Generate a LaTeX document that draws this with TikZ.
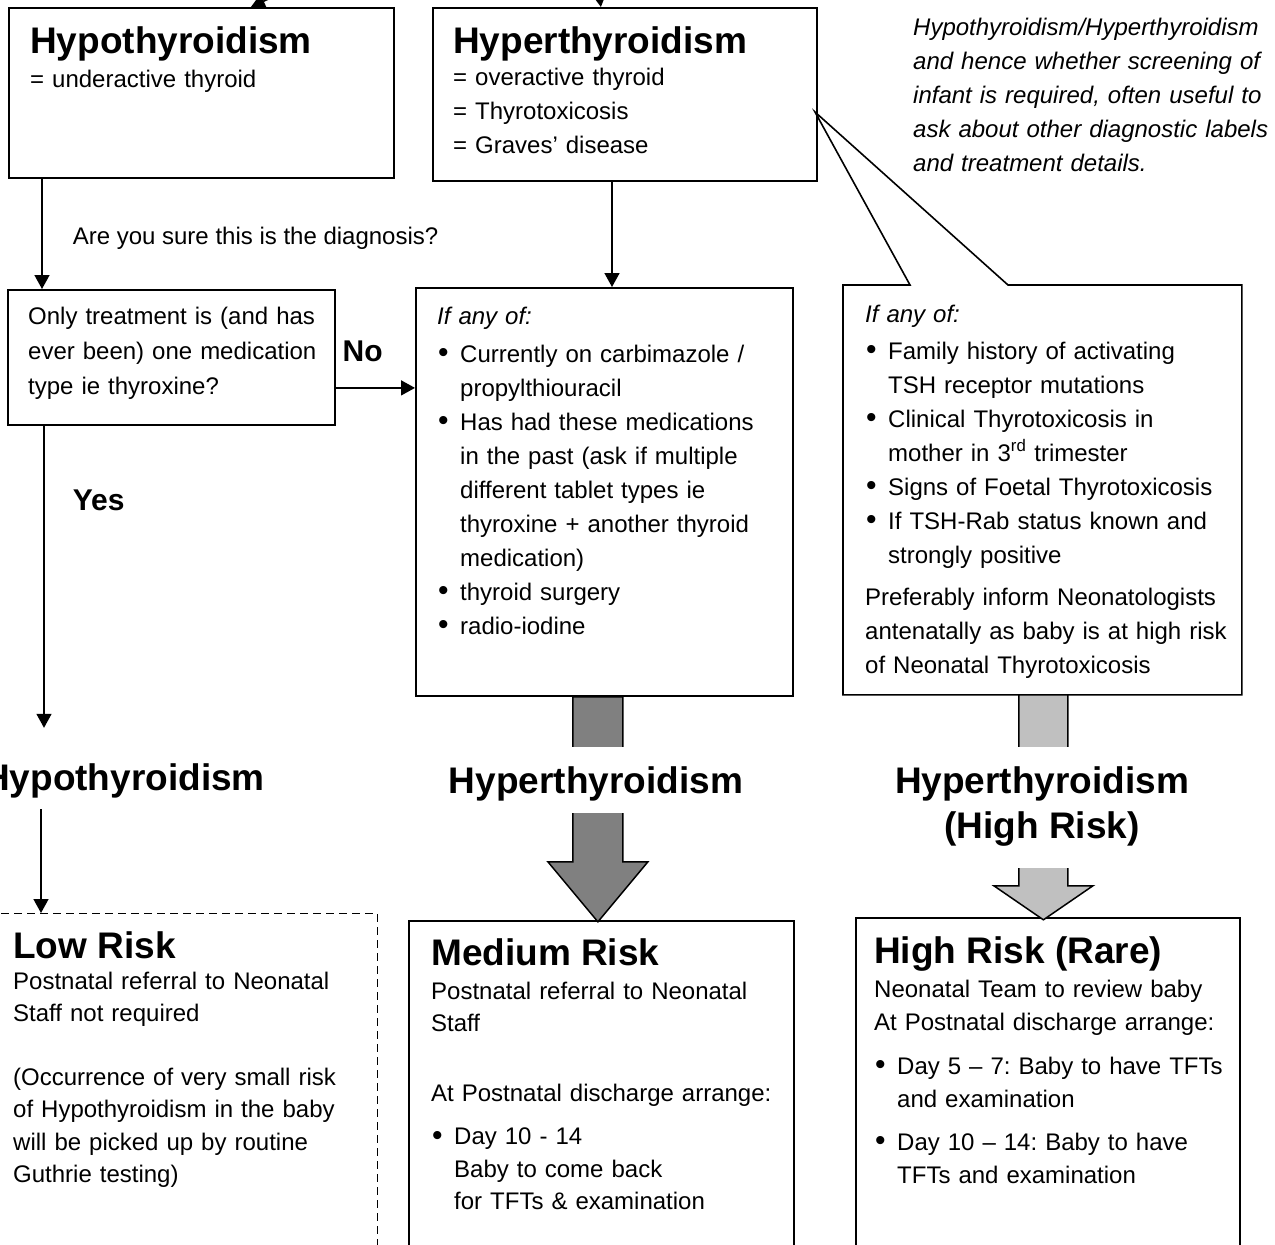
\documentclass[tikz,border=0pt]{standalone}
\usepackage{fontspec}
\setmainfont{Liberation Sans}
\usepackage{xcolor}
\usetikzlibrary{positioning, arrows.meta}

\definecolor{darkgrey}{RGB}{128,128,128}
\definecolor{lightgrey}{RGB}{192,192,192}

\newcommand{\bodyfont}{\fontsize{24}{34}\selectfont}
\newcommand{\hdfont}{\fontsize{37}{45}\selectfont\bfseries}
\newcommand{\ynfont}{\fontsize{30}{36}\selectfont\bfseries}
\newcommand{\bul}{\makebox[23pt][l]{\hspace{1pt}\raisebox{-0.5pt}{\fontsize{30}{34}\selectfont\textbullet}}}
\newcommand{\bulind}{\hspace*{23pt}}
\frenchspacing

\begin{document}
\begin{tikzpicture}[
    x=1pt, y=-1pt,
    box/.style={draw, line width=1.8pt, rectangle, anchor=north west, inner sep=0pt},
    txt/.style={anchor=base west, align=left, text width=370pt, inner sep=0pt, font=\bodyfont},
    head/.style={anchor=base west, inner sep=0pt, font=\hdfont},
    flow/.style={line width=1.6pt, -{Triangle[length=14pt, width=15pt]}},
    fat/.style={draw, line width=1.5pt, line join=miter},
    bar/.style={font=\hdfont, fill=white, inner xsep=6pt, inner ysep=0pt, anchor=base}
]
\useasboundingbox (0,0) rectangle (1275,1245);
\clip (0,0) rectangle (1275,1245);

% boxes
\node[box, minimum width=385pt, minimum height=170pt] (hypo) at (8,7) {};
\node[box, minimum width=384pt, minimum height=173pt] (hyper) at (432,7) {};
\node[box, minimum width=327pt, minimum height=135pt] (quest) at (7,289) {};
\node[box, minimum width=377pt, minimum height=408pt] (midcrit) at (415,287) {};
\node[box, draw=none, minimum width=397pt, minimum height=408pt] (highcrit) at (843,285) {};
\node[box, dash pattern=on 8pt off 5pt, line width=1.4pt, minimum width=420pt, minimum height=420pt] (low) at (-43,913) {};
\node[box, minimum width=385pt, minimum height=420pt] (med) at (408,920) {};
\node[box, minimum width=384pt, minimum height=420pt] (high) at (855,917) {};

% callout pointing at the hyperthyroidism box
\coordinate (tip) at (815,112);
\draw[line width=1.6pt, line join=miter] (highcrit.north west) -- ++(67,0) -- (tip)
    -- ([xshift=165pt]highcrit.north west) -- (highcrit.north east)
    -- (highcrit.south east) -- (highcrit.south west) -- cycle;

% incoming arrows from above
\coordinate (fromA) at (430,-75);
\coordinate (fromB) at (594,-45);
\draw[flow] (fromA) -- ([xshift=49.5pt]hypo.north);
\draw[flow] (fromB) -- ([xshift=-24pt]hyper.north);

% connectors
\draw[flow] ([xshift=34pt]hypo.south west) -- ([xshift=34pt]hypo.south west |- quest.north)
    node[pos=0.6, anchor=base west, xshift=30pt, inner sep=0pt, font=\bodyfont] (sure) {Are you sure this is the diagnosis?};
\draw[flow] ([xshift=180pt]hyper.south west) -- ([xshift=180pt]hyper.south west |- midcrit.north);
\draw[flow] ([yshift=-30.5pt]quest.east) -- ([yshift=-30.5pt]quest.east -| midcrit.west)
    node[pos=0, anchor=base west, xshift=6pt, yshift=26pt, inner sep=0pt, font=\ynfont] (no) {No};

\node[anchor=base east, font=\hdfont, inner sep=0pt, text height=62pt, text depth=19pt] (hypolbl) at (265,790) {Hypothyroidism};
\draw[flow] ([xshift=37pt]quest.south west) -- ([xshift=37pt]quest.south west |- hypolbl.north)
    node[pos=0.28, anchor=base west, xshift=28pt, inner sep=0pt, font=\ynfont] (yes) {Yes};
\draw[flow] ([xshift=34pt]quest.south west |- hypolbl.south) -- ([xshift=34pt]quest.south west |- low.north);

% block arrows
\draw[fat, fill=darkgrey] ([xshift=-31.5pt]midcrit.south) -- ++(0,165) -- ++(-25,0) -- ++(50,60)
    -- ++(50,-60) -- ++(-25,0) -- ++(0,-165) -- cycle;
\draw[fat, fill=lightgrey] ([xshift=-23.5pt]highcrit.south) -- ++(0,191) -- ++(-25,0) -- ++(49.5,34)
    -- ++(49.5,-34) -- ++(-25,0) -- ++(0,-191) -- cycle;
\node[bar, text height=46pt, text depth=20pt] (hyperlbl) at (596,793) {Hyperthyroidism};
\node[bar, align=center, text height=91pt, text depth=30pt] (highlbl) at (1042,838) {Hyperthyroidism\\(High Risk)};

% box texts
\node[head] (hypoT) at (30,53) {Hypothyroidism};
\node[txt] (hypoB) at (30,87) {= underactive thyroid};
\node[head] (hyperT) at (453,53) {Hyperthyroidism};
\node[txt] (hyperB) at (453,85) {= overactive thyroid\\= Thyrotoxicosis\\= Graves' disease};
\node[txt, font=\bodyfont\itshape] (note) at (913,35) {Hypothyroidism/Hyperthyroidism\\and hence whether screening of\\infant is required, often useful to\\ask about other diagnostic labels\\and treatment details.};
\node[txt, font=\fontsize{24}{35}\selectfont] (questB) at (28,324) {Only treatment is (and has\\ever been) one medication\\type ie thyroxine?};
\node[txt] (midcritB) at (437,324) {\textit{If any of:}\\[4pt]\bul Currently on carbimazole /\\\bulind propylthiouracil\\\bul Has had these medications\\\bulind in the past (ask if multiple\\\bulind different tablet types ie\\\bulind thyroxine + another thyroid\\\bulind medication)\\\bul thyroid surgery\\\bul radio-iodine};
\node[txt] (highcritB) at (865,322) {\textit{If any of:}\\[3pt]\bul Family history of activating\\\bulind TSH receptor mutations\\\bul Clinical Thyrotoxicosis in\\\bulind mother in 3\textsuperscript{rd} trimester\\\bul Signs of Foetal Thyrotoxicosis\\\bul If TSH-Rab status known and\\\bulind strongly positive\\[8pt]Preferably inform Neonatologists\\antenatally as baby is at high risk\\of Neonatal Thyrotoxicosis};

\node[head] (lowT) at (13,958) {Low Risk};
\node[txt, font=\fontsize{24}{32.5}\selectfont] (lowB) at (13,989) {Postnatal referral to Neonatal\\Staff not required\\[31pt](Occurrence of very small risk\\of Hypothyroidism in the baby\\will be picked up by routine\\Guthrie testing)};
\node[head] (medT) at (431,965) {Medium Risk};
\node[txt, font=\fontsize{24}{32.5}\selectfont] (medB) at (431,999) {Postnatal referral to Neonatal\\Staff\\[37pt]At Postnatal discharge arrange:\\[11pt]\bul Day 10 - 14\\\bulind Baby to come back\\\bulind for TFTs \& examination};
\node[head] (highT) at (874,963) {High Risk (Rare)};
\node[txt, font=\fontsize{24}{33}\selectfont] (highB) at (874,997) {Neonatal Team to review baby\\At Postnatal discharge arrange:\\[11pt]\bul Day 5 -- 7: Baby to have TFTs\\\bulind and examination\\[10pt]\bul Day 10 -- 14: Baby to have\\\bulind TFTs and examination};
\end{tikzpicture}
\end{document}
